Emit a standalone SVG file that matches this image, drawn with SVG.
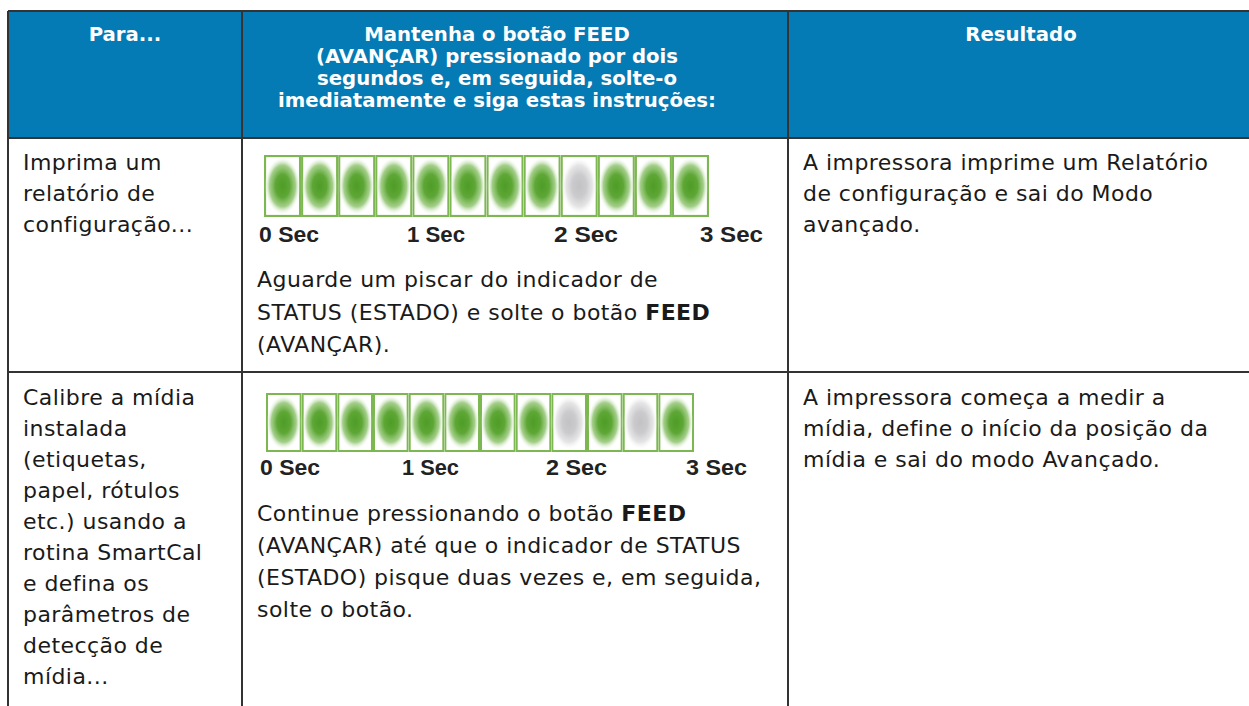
<svg xmlns="http://www.w3.org/2000/svg" xmlns:xlink="http://www.w3.org/1999/xlink" width="1249" height="706" viewBox="0 0 1249 706">
<style>
.hdr{font-family:"DejaVu Sans","Open Sans",sans-serif;font-weight:bold;font-size:19.7px;fill:#ffffff;text-anchor:middle}
.body{font-family:"DejaVu Sans","Open Sans",sans-serif;font-size:22px;letter-spacing:0.45px;fill:#1a1a1a}
.sec{font-family:"Liberation Sans",Arial,sans-serif;font-weight:bold;font-size:22px;fill:#222222}
.grid{stroke:#333333;stroke-width:2;fill:none}
.cell{fill:#ffffff;stroke:#7db751;stroke-width:2.2}
</style>
<defs>
<radialGradient id="gG" cx="0.5" cy="0.5" r="0.5">
<stop offset="0" stop-color="#4f9c27"/>
<stop offset="0.4" stop-color="#5ea736"/>
<stop offset="0.72" stop-color="#86bf63" stop-opacity="0.75"/>
<stop offset="1" stop-color="#ffffff" stop-opacity="0"/>
</radialGradient>
<radialGradient id="gY" cx="0.5" cy="0.5" r="0.5">
<stop offset="0" stop-color="#c2c2c4"/>
<stop offset="0.4" stop-color="#cbcbcd"/>
<stop offset="0.72" stop-color="#dcdcde" stop-opacity="0.75"/>
<stop offset="1" stop-color="#ffffff" stop-opacity="0"/>
</radialGradient>
<symbol id="ledOn" viewBox="0 0 37 62" preserveAspectRatio="none">
<rect x="1" y="1" width="35" height="60" class="cell"/>
<ellipse cx="18.5" cy="31" rx="18" ry="29" fill="url(#gG)"/>
</symbol>
<symbol id="ledOff" viewBox="0 0 37 62" preserveAspectRatio="none">
<rect x="1" y="1" width="35" height="60" class="cell"/>
<ellipse cx="18.5" cy="31" rx="18" ry="29" fill="url(#gY)"/>
</symbol>
</defs>
<rect width="1249" height="706" fill="#ffffff"/>

<g id="header">
<rect x="8" y="11" width="1241" height="127" fill="#047bb4"/>
<text class="hdr" x="125" y="41">Para...</text>
<text class="hdr" x="497" y="41">Mantenha o botão FEED</text>
<text class="hdr" x="497" y="63">(AVANÇAR) pressionado por dois</text>
<text class="hdr" x="497" y="85">segundos e, em seguida, solte-o</text>
<text class="hdr" x="497" y="107">imediatamente e siga estas instruções:</text>
<text class="hdr" x="1021" y="41">Resultado</text>
</g>

<g id="grid">
<line class="grid" x1="8" y1="11" x2="1249" y2="11"/>
<line class="grid" x1="8" y1="138" x2="1249" y2="138"/>
<line class="grid" x1="8" y1="372" x2="1249" y2="372"/>
<line class="grid" x1="8" y1="11" x2="8" y2="706"/>
<line class="grid" x1="242" y1="11" x2="242" y2="706"/>
<line class="grid" x1="788" y1="11" x2="788" y2="706"/>
</g>

<g id="row1-para">
<text class="body" x="23" y="170">Imprima um</text>
<text class="body" x="23" y="201">relatório de</text>
<text class="body" x="23" y="232">configuração...</text>
</g>

<g id="row1-led">
<use xlink:href="#ledOn" x="264.00" y="155" width="37.08" height="62"/>
<use xlink:href="#ledOn" x="301.08" y="155" width="37.08" height="62"/>
<use xlink:href="#ledOn" x="338.17" y="155" width="37.08" height="62"/>
<use xlink:href="#ledOn" x="375.25" y="155" width="37.08" height="62"/>
<use xlink:href="#ledOn" x="412.33" y="155" width="37.08" height="62"/>
<use xlink:href="#ledOn" x="449.42" y="155" width="37.08" height="62"/>
<use xlink:href="#ledOn" x="486.50" y="155" width="37.08" height="62"/>
<use xlink:href="#ledOn" x="523.58" y="155" width="37.08" height="62"/>
<use xlink:href="#ledOff" x="560.67" y="155" width="37.08" height="62"/>
<use xlink:href="#ledOn" x="597.75" y="155" width="37.08" height="62"/>
<use xlink:href="#ledOn" x="634.83" y="155" width="37.08" height="62"/>
<use xlink:href="#ledOn" x="671.92" y="155" width="37.08" height="62"/>
<text class="sec" x="259" y="242" textLength="60" lengthAdjust="spacingAndGlyphs">0 Sec</text>
<text class="sec" x="407" y="242" textLength="58" lengthAdjust="spacingAndGlyphs">1 Sec</text>
<text class="sec" x="554" y="242" textLength="64" lengthAdjust="spacingAndGlyphs">2 Sec</text>
<text class="sec" x="700" y="242" textLength="63" lengthAdjust="spacingAndGlyphs">3 Sec</text>
</g>

<g id="row1-instr">
<text class="body" x="257" y="287">Aguarde um piscar do indicador de</text>
<text class="body" x="257" y="320">STATUS (ESTADO) e solte o botão <tspan font-weight="bold">FEED</tspan></text>
<text class="body" x="257" y="352">(AVANÇAR).</text>
</g>

<g id="row1-result">
<text class="body" x="803" y="170">A impressora imprime um Relatório</text>
<text class="body" x="803" y="201">de configuração e sai do Modo</text>
<text class="body" x="803" y="232">avançado.</text>
</g>

<g id="row2-para">
<text class="body" x="23" y="405">Calibre a mídia</text>
<text class="body" x="23" y="436">instalada</text>
<text class="body" x="23" y="467">(etiquetas,</text>
<text class="body" x="23" y="498">papel, rótulos</text>
<text class="body" x="23" y="529">etc.) usando a</text>
<text class="body" x="23" y="560">rotina SmartCal</text>
<text class="body" x="23" y="591">e defina os</text>
<text class="body" x="23" y="622">parâmetros de</text>
<text class="body" x="23" y="653">detecção de</text>
<text class="body" x="23" y="684">mídia...</text>
</g>

<g id="row2-led">
<use xlink:href="#ledOn" x="266.00" y="393" width="35.67" height="59"/>
<use xlink:href="#ledOn" x="301.67" y="393" width="35.67" height="59"/>
<use xlink:href="#ledOn" x="337.33" y="393" width="35.67" height="59"/>
<use xlink:href="#ledOn" x="373.00" y="393" width="35.67" height="59"/>
<use xlink:href="#ledOn" x="408.67" y="393" width="35.67" height="59"/>
<use xlink:href="#ledOn" x="444.33" y="393" width="35.67" height="59"/>
<use xlink:href="#ledOn" x="480.00" y="393" width="35.67" height="59"/>
<use xlink:href="#ledOn" x="515.67" y="393" width="35.67" height="59"/>
<use xlink:href="#ledOff" x="551.33" y="393" width="35.67" height="59"/>
<use xlink:href="#ledOn" x="587.00" y="393" width="35.67" height="59"/>
<use xlink:href="#ledOff" x="622.67" y="393" width="35.67" height="59"/>
<use xlink:href="#ledOn" x="658.33" y="393" width="35.67" height="59"/>
<text class="sec" x="260" y="475" textLength="60" lengthAdjust="spacingAndGlyphs">0 Sec</text>
<text class="sec" x="402" y="475" textLength="57" lengthAdjust="spacingAndGlyphs">1 Sec</text>
<text class="sec" x="546" y="475" textLength="61" lengthAdjust="spacingAndGlyphs">2 Sec</text>
<text class="sec" x="686" y="475" textLength="61" lengthAdjust="spacingAndGlyphs">3 Sec</text>
</g>

<g id="row2-instr">
<text class="body" x="257" y="521">Continue pressionando o botão <tspan font-weight="bold">FEED</tspan></text>
<text class="body" x="257" y="553">(AVANÇAR) até que o indicador de STATUS</text>
<text class="body" x="257" y="585">(ESTADO) pisque duas vezes e, em seguida,</text>
<text class="body" x="257" y="617">solte o botão.</text>
</g>

<g id="row2-result">
<text class="body" x="803" y="405">A impressora começa a medir a</text>
<text class="body" x="803" y="436">mídia, define o início da posição da</text>
<text class="body" x="803" y="467">mídia e sai do modo Avançado.</text>
</g>
</svg>
